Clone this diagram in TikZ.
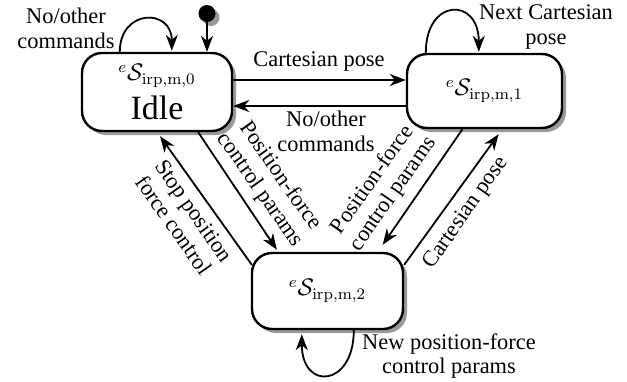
\documentclass[tikz,border=0pt]{standalone}
\usepackage[no-math]{fontspec}
\setmainfont{Liberation Serif}
\usetikzlibrary{arrows.meta,calc,shadows}

\begin{document}
\begin{tikzpicture}[x=0.5pt,y=-0.5pt,
  state/.style={draw, line width=1.2pt, rounded corners=10pt, fill=white,
    align=center, inner sep=0pt, font=\fontsize{12}{14}\selectfont,
    drop shadow={shadow xshift=2pt, shadow yshift=-2pt, fill=black!40, opacity=1}},
  arr/.style={line width=0.9pt, -{Stealth[length=8pt,width=6pt,inset=2.5pt]}},
  lbl/.style={font=\fontsize{11.2}{12.4}\selectfont, align=center, inner sep=0pt}
]
\useasboundingbox (0,0) rectangle (627,381);

% states
\node[state, minimum width=75pt, minimum height=39pt] (n0) at (157,92)
  {$^e\mathcal{S}_{\mathrm{irp,m,0}}$\\[3pt]{\fontsize{17}{17}\selectfont Idle}};
\node[state, minimum width=77.5pt, minimum height=37pt] (n1) at (484.5,91)
  {$^e\mathcal{S}_{\mathrm{irp,m,1}}$};
\node[state, minimum width=75.5pt, minimum height=38pt] (n2) at (327.5,291)
  {$^e\mathcal{S}_{\mathrm{irp,m,2}}$};

% initial marker
\node[circle, fill=black, minimum size=8.5pt, inner sep=0pt,
  drop shadow={shadow xshift=2pt, shadow yshift=-2pt, fill=black!40, opacity=1}]
  (init) at (207,13.5) {};
\draw[arr] (init) -- (init |- n0.north);

% self loops
\draw[arr] ($(n0.north west)+(39,0)$) .. controls +(0,-43) and +(0,-43) .. ($(n0.north west)+(91,-1)$);
\draw[arr] ($(n1.north west)+(20,0)$) .. controls +(0,-55) and +(0,-55) .. ($(n1.north west)+(73,-1)$);
\draw[arr] ($(n2.south west)+(103,0)$) .. controls +(0,57) and +(0,57) .. ($(n2.south west)+(51,4)$);

% transitions between Idle and state 1
\draw[arr] ($(n0.east)+(0,-12)$) coordinate (a01) -- (a01 -| n1.west);
\draw[arr] ($(n1.west)+(0,15)$) coordinate (a10) -- (a10 -| n0.east);

% transitions to and from state 2
\draw[arr] ($(n0.south west)!0.77!(n0.south east)$) -- ($(n2.north west)!0.17!(n2.north east)+(0,-2)$);
\draw[arr] ($(n2.north west)+(1,13)$) -- ($(n0.south west)!0.52!(n0.south east)+(0,4)$);
\draw[arr] ($(n1.south west)!0.36!(n1.south east)$) -- ($(n2.north west)!0.86!(n2.north east)+(0,-7)$);
\draw[arr] ($(n2.north east)+(0,13)$) -- ($(n1.south west)!0.59!(n1.south east)+(0,5)$);

% labels
\node[lbl] (l00) at (66,28) {No/other\\commands};
\node[lbl] (l11) at (546,27) {Next Cartesian\\pose};
\node[lbl] (l01) at (319,61) {Cartesian pose};
\node[lbl] (l10) at (326,131) {No/other\\commands};
\node[lbl, rotate=-55] (l02) at (270,183) {Position-force\\control params};
\node[lbl, rotate=-55] (l20) at (184,218) {Stop position\\force control};
\node[lbl, rotate=55] (l12) at (383,187) {Position-force\\control params};
\node[lbl, rotate=55] (l21) at (466,213) {Cartesian pose};
\node[lbl] (l22) at (449,356) {New position-force\\control params};
\end{tikzpicture}
\end{document}
